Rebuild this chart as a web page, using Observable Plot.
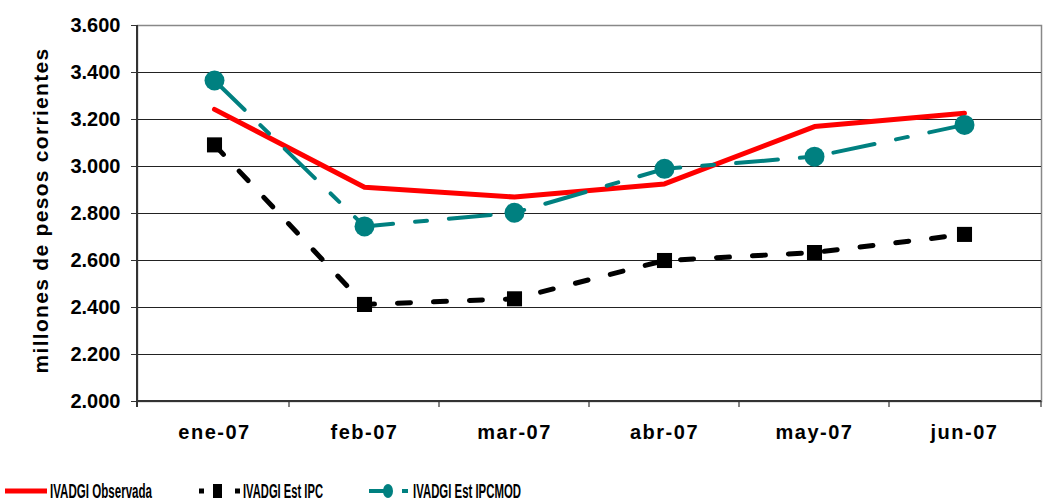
<!DOCTYPE html>
<html>
<head>
<meta charset="utf-8">
<script src="https://cdn.jsdelivr.net/npm/d3@7"></script>
<script src="https://cdn.jsdelivr.net/npm/@observablehq/plot@0.6"></script>
<style>
  body { margin: 0; background: #fff; }
  #chart svg { display: block; }
</style>
</head>
<body>
<div id="chart"></div>
<script>
const months = ["ene-07", "feb-07", "mar-07", "abr-07", "may-07", "jun-07"];
const observada = [3243, 2912, 2870, 2926, 3170, 3227];
const estIPC = [3092, 2413, 2437, 2600, 2634, 2711];
const estIPCMOD = [3366, 2745, 2803, 2990, 3042, 3177];
const yTicks = [2000, 2200, 2400, 2600, 2800, 3000, 3200, 3400, 3600];
const seriesNames = ["IVADGI Observada", "IVADGI Est IPC", "IVADGI Est IPCMOD"];
const yLabel = "millones de pesos corrientes";

const rows = (vals) => months.map((m, i) => ({month: m, value: vals[i]}));
const obs = rows(observada), ipc = rows(estIPC), mod = rows(estIPCMOD);
const fmt = (d) => d3.format(",")(d).replace(",", ".");

const axisLines = (index, scales, values, dims) => {
  const g = d3.create("svg:g");
  const step = scales.x(months[1]) - scales.x(months[0]);
  const y0 = dims.height - dims.marginBottom;
  const xL = dims.marginLeft;
  const xR = dims.width - dims.marginRight;
  const xs = months.map(m => scales.x(m) - step / 2).slice(1);
  xs.push(xR);
  for (const x of xs) {
    g.append("line").attr("x1", x).attr("x2", x).attr("y1", y0).attr("y2", y0 + 6)
      .attr("stroke", "#333").attr("stroke-width", 1.2);
  }
  g.append("line").attr("x1", xL).attr("x2", xL).attr("y1", dims.marginTop).attr("y2", y0 + 6)
    .attr("stroke", "#333").attr("stroke-width", 2);
  g.append("line").attr("x1", xL).attr("x2", xR).attr("y1", y0).attr("y2", y0)
    .attr("stroke", "#333").attr("stroke-width", 2);
  return g.node();
};

const chart = Plot.plot({
  width: 1046,
  height: 460,
  marginLeft: 137,
  marginRight: 5,
  marginTop: 25,
  marginBottom: 59,
  style: {fontFamily: "'Liberation Sans', Arial, sans-serif", fontWeight: "bold", fontSize: "20px", color: "#000", background: "#fff"},
  x: {type: "point", domain: months, padding: 0.5},
  y: {domain: [2000, 3600]},
  marks: [
    Plot.frame({stroke: "#888", strokeWidth: 1.5}),
    Plot.ruleY(yTicks.slice(1, -1), {stroke: "#222", strokeWidth: 1}),
    Plot.axisY({ticks: yTicks, tickFormat: fmt, tickSize: 6, tickPadding: 11, label: null, stroke: "#333"}),
    Plot.axisX({tickSize: 0, tickPadding: 23, label: null}),
    axisLines,
    Plot.line(obs, {x: "month", y: "value", stroke: "#ff0000", strokeWidth: 5}),
    Plot.line(ipc, {x: "month", y: "value", stroke: "#000", strokeWidth: 5, strokeDasharray: "13,23"}),
    Plot.dot(ipc, {x: "month", y: "value", symbol: "square", r: 8.5, fill: "#000"}),
    Plot.line(mod, {x: "month", y: "value", stroke: "#008080", strokeWidth: 4, strokeDasharray: "42,22,12,22"}),
    Plot.dot(mod, {x: "month", y: "value", r: 10, fill: "#008080"}),
    Plot.text([yLabel], {frameAnchor: "left", textAnchor: "middle", dx: -96, dy: -3, rotate: -90, fontSize: 21, fontWeight: "bold", fill: "#000"})
  ]
});
d3.select(chart).selectAll("[aria-label='x-axis tick label'] text").style("letter-spacing", "1.5px");
d3.select(chart).selectAll("[aria-label='text'] text").style("letter-spacing", "1.3px");
document.getElementById("chart").appendChild(chart);

// Legend below the plot
const leg = d3.select("#chart").append("svg").attr("width", 1046).attr("height", 42)
  .style("font-family", "'Liberation Sans', Arial, sans-serif").style("font-weight", "bold");
const ly = 31;
const ty = 38;
leg.append("line").attr("x1", 5).attr("x2", 47).attr("y1", ly).attr("y2", ly).attr("stroke", "#ff0000").attr("stroke-width", 5);
leg.append("text").attr("x", 50).attr("y", ty).attr("font-size", 20).attr("textLength", 102).attr("lengthAdjust", "spacingAndGlyphs").text(seriesNames[0]);
leg.append("line").attr("x1", 199).attr("x2", 240).attr("y1", ly).attr("y2", ly).attr("stroke", "#000").attr("stroke-width", 5).attr("stroke-dasharray", "5,31");
leg.append("rect").attr("x", 213).attr("y", ly - 7).attr("width", 9).attr("height", 14).attr("fill", "#000");
leg.append("text").attr("x", 243).attr("y", ty).attr("font-size", 20).attr("textLength", 80).attr("lengthAdjust", "spacingAndGlyphs").text(seriesNames[1]);
leg.append("line").attr("x1", 369).attr("x2", 387).attr("y1", ly).attr("y2", ly).attr("stroke", "#008080").attr("stroke-width", 4);
leg.append("line").attr("x1", 402).attr("x2", 408).attr("y1", ly).attr("y2", ly).attr("stroke", "#008080").attr("stroke-width", 4);
leg.append("ellipse").attr("cx", 388).attr("cy", ly).attr("rx", 5).attr("ry", 7).attr("fill", "#008080");
leg.append("text").attr("x", 413).attr("y", ty).attr("font-size", 20).attr("textLength", 108).attr("lengthAdjust", "spacingAndGlyphs").text(seriesNames[2]);
</script>
</body>
</html>
